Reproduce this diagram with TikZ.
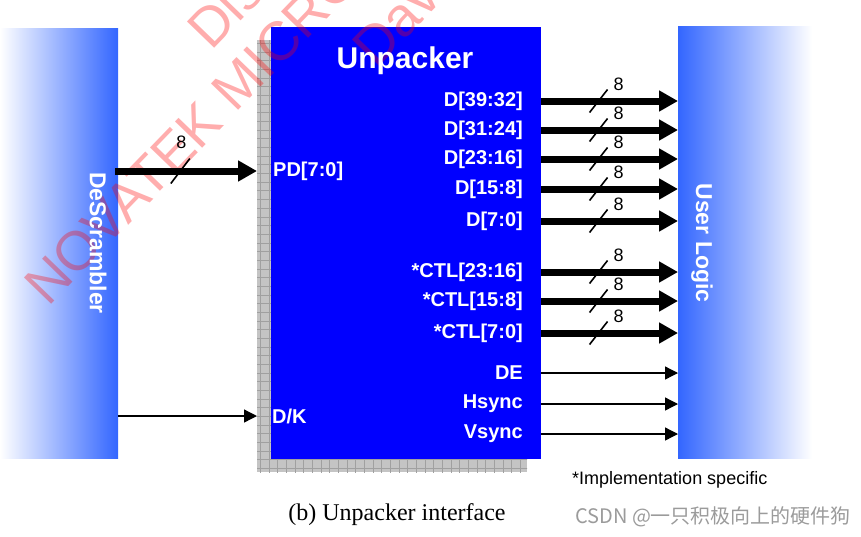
\documentclass[tikz,border=0pt]{standalone}
\usepackage{fontspec}
\setmainfont{Liberation Serif}
\setsansfont{Liberation Sans}
\newfontfamily\cjkfont{Noto Sans CJK SC}
\usetikzlibrary{arrows.meta}
\definecolor{pureblue}{RGB}{0,0,255}
\definecolor{lightblue}{RGB}{51,102,255}
\definecolor{gridfill}{RGB}{196,196,196}
\definecolor{gridline}{RGB}{160,160,160}
\definecolor{wmred}{RGB}{255,0,0}
\definecolor{csdngray}{RGB}{155,155,155}
\begin{document}
\begin{tikzpicture}[x=1pt,y=-1pt,
  port/.style={font={\sffamily\bfseries\fontsize{20}{24}\selectfont}, text=white, inner sep=0pt},
  sidetext/.style={font={\sffamily\bfseries\fontsize{23}{26}\selectfont}, text=white, inner sep=0pt, rotate=-90},
  bus/.style={line width=7pt, -{Triangle[length=19pt,width=20pt]}},
  sig/.style={line width=1.3pt, -{Triangle[length=13pt,width=13pt]}},
  slashmark/.style={line width=1.6pt},
  wnum/.style={font={\sffamily\fontsize{18}{21}\selectfont}, inner sep=0pt},
  wmark/.style={font={\sffamily\fontsize{55}{60}\selectfont}, text=wmred, text opacity=0.32, inner sep=0pt, anchor=base west, rotate=46},
  boxnode/.style={draw=none, inner sep=0pt, outer sep=0pt, anchor=north west}
]
\useasboundingbox (0,0) rectangle (861,536);

% side boxes
\node[boxnode, minimum width=118pt, minimum height=430pt, left color=white, right color=lightblue] (des) at (0,28) {};
\node[boxnode, minimum width=134pt, minimum height=432pt, left color=lightblue, right color=white] (user) at (678,26) {};

% gridded shadow
\node[boxnode, minimum width=270pt, minimum height=432pt, fill=gridfill] (shadow) at (257,40) {};
\begin{scope}
  \clip (257,40) rectangle (527,472);
  \draw[gridline, line width=0.5pt, step=8.67pt] (250,480) grid (535,35);
\end{scope}

% Unpacker block
\node[boxnode, minimum width=270pt, minimum height=432pt, fill=pureblue] (unp) at (271,27) {};

% watermark
\begin{scope}
  \clip (0,0) rectangle (861,536);
  \node[wmark] (wm1) at (48,308) {NOVATEK MICRO};
  \node[wmark] (wm2) at (211,52) {Dis};
  \node[wmark] (wm3) at (376,70) {Davi};
\end{scope}

% texts in blocks
\node[sidetext] (destext) at (98,243) {DeScrambler};
\node[sidetext] (usertext) at (702,243) {User Logic};
\node[port, font={\sffamily\bfseries\fontsize{30}{34}\selectfont}, anchor=base] (title) at (405,68) {Unpacker};

\node[port, anchor=east] (l1) at (523,101) {D[39:32]};
\node[port, anchor=east] (l2) at (523,130) {D[31:24]};
\node[port, anchor=east] (l3) at (523,159) {D[23:16]};
\node[port, anchor=east] (l4) at (523,189) {D[15:8]};
\node[port, anchor=east] (l5) at (523,221) {D[7:0]};
\node[port, anchor=east] (l6) at (523,272) {*CTL[23:16]};
\node[port, anchor=east] (l7) at (523,301) {*CTL[15:8]};
\node[port, anchor=east] (l8) at (523,333) {*CTL[7:0]};
\node[port, anchor=east] (l9) at (523,373) {DE};
\node[port, anchor=east] (l10) at (523,404) {Hsync};
\node[port, anchor=east] (l11) at (523,434) {Vsync};

\node[port, anchor=west] (pd) at (273,171) {PD[7:0]};
\node[port, anchor=west] (dk) at (272,416) {D/K};

% output buses
\foreach \i in {1,...,8}{
  \draw[bus] (unp.east |- l\i) -- coordinate[pos=0.42] (s\i) (user.west |- l\i);
  \draw[slashmark] ([shift={(-9,11.5)}]s\i) -- ([shift={(9,-11.5)}]s\i);
  \node[wnum] (n\i) at ([shift={(20,-17)}]s\i) {8};
}
% output single signals
\foreach \i in {9,10,11}{
  \draw[sig] (unp.east |- l\i) -- (user.west |- l\i);
}

% inputs
\draw[bus] ([xshift=-3pt]des.east |- pd) -- coordinate[pos=0.46] (sp) (shadow.west |- pd);
\draw[slashmark] ([shift={(-9.5,12.5)}]sp) -- ([shift={(9.5,-12.5)}]sp);
\node[wnum] (np) at ([shift={(1,-29)}]sp) {8};
\draw[sig] (des.east |- dk) -- (shadow.west |- dk);

% notes
\node[font={\sffamily\fontsize{18}{22}\selectfont}, anchor=west, inner sep=0pt] (impl) at (572,480) {*Implementation specific};
\node[font={\rmfamily\fontsize{24}{28}\selectfont}, inner sep=0pt] (cap) at (397,515) {(b) Unpacker interface};
\node[font={\cjkfont\fontsize{20}{24}\selectfont}, text=csdngray, anchor=west, inner sep=0pt] (csdn) at (575,517) {CSDN @一只积极向上的硬件狗};
\end{tikzpicture}
\end{document}
